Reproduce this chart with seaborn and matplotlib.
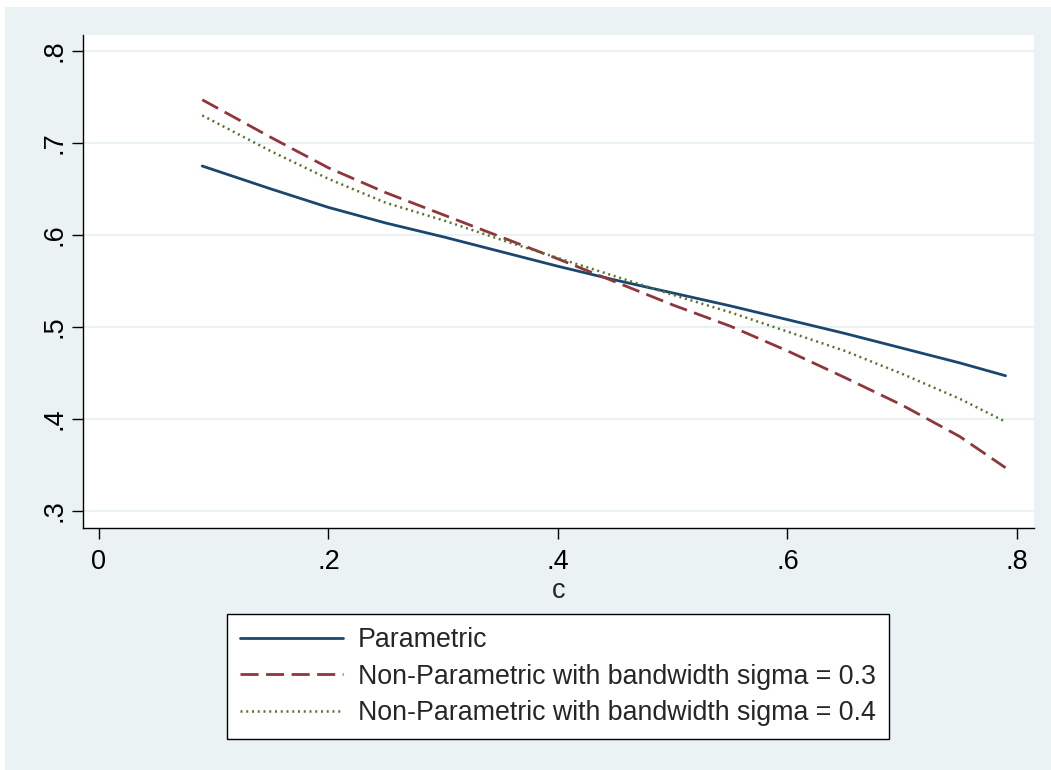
import matplotlib
matplotlib.use("Agg")
import matplotlib.pyplot as plt
from matplotlib.patches import Rectangle
import seaborn as sns

# data
c = [0.09, 0.15, 0.20, 0.25, 0.30, 0.35, 0.40, 0.45, 0.50, 0.55, 0.60, 0.65, 0.70, 0.75, 0.79]
parametric = [0.675, 0.650, 0.630, 0.613, 0.598, 0.582, 0.566, 0.551, 0.537, 0.523, 0.508, 0.493, 0.477, 0.461, 0.447]
np_sigma03 = [0.747, 0.706, 0.673, 0.646, 0.622, 0.598, 0.574, 0.549, 0.524, 0.501, 0.474, 0.445, 0.415, 0.381, 0.347]
np_sigma04 = [0.730, 0.691, 0.661, 0.635, 0.616, 0.595, 0.575, 0.555, 0.535, 0.516, 0.495, 0.474, 0.449, 0.422, 0.397]

labels = ["Parametric",
          "Non-Parametric with bandwidth sigma = 0.3",
          "Non-Parametric with bandwidth sigma = 0.4"]
x_ticks = [0, 0.2, 0.4, 0.6, 0.8]
x_ticklabels = ["0", ".2", ".4", ".6", ".8"]
y_ticks = [0.3, 0.4, 0.5, 0.6, 0.7, 0.8]
y_ticklabels = [".3", ".4", ".5", ".6", ".7", ".8"]

bg = "#EAF2F3"
colors = ["#1A476F", "#90353B", "#55752F"]
styles = ["-", (0, (6.5, 2.7)), (0, (0.8, 1.5))]
widths = [2.0, 2.0, 1.8]

sns.set_style("white")
plt.rcParams["font.family"] = ["Liberation Sans", "DejaVu Sans"]

fig = plt.figure(figsize=(10.51, 7.70), dpi=100)
fig.patch.set_facecolor("white")
fig.patches.append(Rectangle((5 / 1051, 0), 1, 1 - 7 / 770, transform=fig.transFigure,
                             facecolor=bg, edgecolor="none", zorder=-5))

ax = fig.add_axes([83 / 1051, 1 - 528 / 770, (1034 - 83) / 1051, (528 - 35) / 770])
ax.set_facecolor("white")

for vals, lab, col, ls, lw in zip([parametric, np_sigma03, np_sigma04], labels, colors, styles, widths):
    sns.lineplot(x=c, y=vals, ax=ax, color=col, linestyle=ls, linewidth=lw, label=lab)

ax.set_xlim(-0.0139, 0.8148)
ax.set_ylim(0.2815, 0.8174)
ax.set_xticks(x_ticks)
ax.set_xticklabels(x_ticklabels)
ax.set_yticks(y_ticks)
ax.set_yticklabels(y_ticklabels, rotation=90, va="center")
ax.yaxis.grid(True, color=bg, linewidth=1.5)
ax.set_axisbelow(True)

for s in ["top", "right"]:
    ax.spines[s].set_visible(False)
for s in ["left", "bottom"]:
    ax.spines[s].set_color("black")
    ax.spines[s].set_linewidth(1.0)

ax.tick_params(axis="both", direction="out", length=8, width=1, color="black",
               labelsize=19.5, labelcolor="black", bottom=True, left=True)
ax.tick_params(axis="x", pad=7)
ax.tick_params(axis="y", pad=3)

ax.set_xlabel("c", fontsize=19.5, labelpad=2)
ax.set_ylabel("")

ax.legend(loc="center", bbox_to_anchor=(558 / 1051, 1 - 676.5 / 770),
          bbox_transform=fig.transFigure, fontsize=19.3, frameon=True, fancybox=False,
          edgecolor="black", framealpha=1, handlelength=3.84, handletextpad=0.56,
          labelspacing=0.39, borderpad=0.48)
ax.get_legend().get_frame().set_linewidth(1.0)

plt.savefig("out.png", dpi=100, facecolor=fig.get_facecolor())
plt.close()
